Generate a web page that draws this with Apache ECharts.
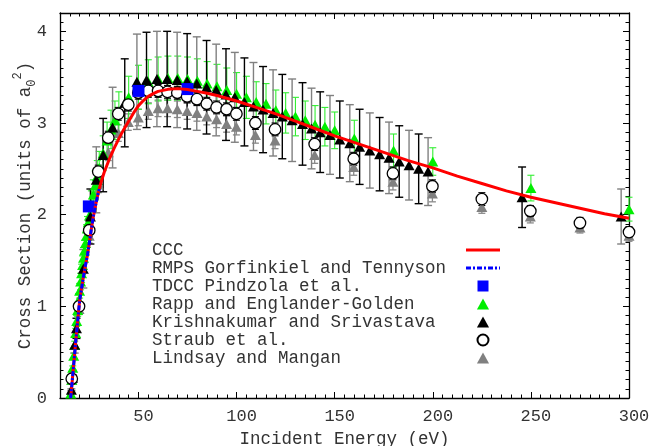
<!DOCTYPE html>
<html><head><meta charset="utf-8">
<script src="https://cdn.jsdelivr.net/npm/echarts@6/dist/echarts.min.js"></script>
<style>html,body{margin:0;padding:0;background:#fff}#c{width:651px;height:446px}</style>
</head><body><div id="c"></div>
<script>
// ---- data (energy eV, cross section a0^2, [error]) ----
const ccc = [[15.4,0],[16,0.13],[17,0.37],[18,0.61],[19,0.84],[20,1.06],[21,1.2],[22,1.33],[23,1.45],[24,1.56],[25,1.70],[26,1.85],[27,1.98],[28,2.09],[29,2.19],[30,2.28],[31,2.36],[32.5,2.46],[35,2.60],[37.5,2.72],[40,2.83],[42.5,2.93],[45,3.02],[47.5,3.11],[50,3.19],[52.5,3.245],[55,3.29],[57.5,3.32],[60,3.345],[65,3.367],[70,3.375],[75,3.365],[80,3.345],[85,3.325],[90,3.30],[95,3.27],[100,3.24],[110,3.17],[120,3.10],[130,3.02],[140,2.94],[150,2.86],[162.5,2.77],[175,2.68],[187.5,2.59],[200,2.51],[212.5,2.42],[225,2.34],[237.5,2.26],[250,2.19],[262.5,2.13],[275,2.07],[287.5,2.01],[300,1.96]];
const rmps = [[15.4,0],[16,0.13],[17,0.37],[18,0.61],[19,0.84],[20,1.06],[21,1.2],[22,1.33],[23,1.45],[24,1.56],[25,1.70],[26,1.85],[27,1.98],[28,2.09],[29,2.19],[30,2.28]];
const tdcc = [[24.7,2.09],[50,3.35],[75,3.37]];
const rapp = [[15.5,0.05,0.00],[16,0.20,0.01],[16.5,0.33,0.02],[17,0.46,0.03],[17.5,0.58,0.04],[18,0.71,0.05],[18.5,0.84,0.06],[19,0.96,0.07],[19.5,1.07,0.07],[20,1.17,0.08],[20.5,1.27,0.09],[21,1.36,0.10],[21.5,1.45,0.10],[22,1.53,0.11],[22.5,1.61,0.11],[23,1.69,0.12],[23.5,1.77,0.12],[24,1.85,0.13],[24.5,1.92,0.13],[25,1.99,0.14],[26,2.11,0.15],[27,2.22,0.16],[28,2.32,0.16],[29,2.42,0.17],[30,2.51,0.18],[32,2.67,0.19],[34,2.81,0.20],[36,2.93,0.21],[38,3.03,0.21],[40,3.12,0.22],[45,3.28,0.23],[50,3.39,0.24],[55,3.45,0.24],[60,3.48,0.24],[65,3.49,0.24],[70,3.49,0.24],[75,3.48,0.24],[80,3.46,0.24],[85,3.43,0.24],[90,3.40,0.24],[95,3.36,0.24],[100,3.32,0.23],[105,3.28,0.23],[110,3.23,0.22],[115,3.21,0.22],[120,3.14,0.22],[125,3.11,0.22],[130,3.07,0.21],[135,3.03,0.21],[140,2.98,0.21],[145,2.96,0.21],[150,2.92,0.20],[160,2.83,0.20],[180,2.70,0.18],[200,2.58,0.15],[250,2.29,0.14],[300,2.06,0.13]];
const krish = [[15.8,0.09,0.01],[16.4,0.22,0.03],[17.5,0.58,0.09],[18.4,0.76,0.11],[21.9,1.41,0.21],[25.5,1.98,0.30],[28.5,2.38,0.36],[32,2.65,0.40],[36.8,2.95,0.44],[43,3.22,0.48],[49.2,3.45,0.52],[54.1,3.47,0.52],[59.4,3.48,0.52],[64.6,3.48,0.52],[69.7,3.47,0.52],[74.8,3.455,0.52],[79.7,3.43,0.51],[84.7,3.39,0.51],[89.6,3.36,0.50],[94.6,3.31,0.50],[99.1,3.28,0.49],[104,3.23,0.48],[108.6,3.18,0.48],[113.5,3.146,0.47],[118.6,3.11,0.47],[123.3,3.07,0.46],[128.3,3.03,0.45],[133.6,2.99,0.45],[138.2,2.94,0.44],[142.6,2.90,0.44],[147.6,2.87,0.43],[152.6,2.82,0.42],[157.7,2.78,0.42],[162.7,2.74,0.41],[167.9,2.70,0.41],[172.9,2.66,0.40],[177.7,2.62,0.39],[182.9,2.58,0.39],[187.9,2.54,0.38],[192.8,2.50,0.38],[197.6,2.47,0.37],[245.5,2.19,0.33],[296,1.98,0.30]];
const straub = [[16,0.21,0.02],[19.7,1.0,0.05],[24.9,1.83,0.07],[29.5,2.47,0.07],[34.6,2.84,0.07],[39.7,3.10,0.07],[44.8,3.20,0.07],[49.9,3.33,0.07],[55,3.35,0.07],[60,3.35,0.07],[64.8,3.34,0.07],[69.8,3.33,0.07],[74.8,3.29,0.07],[79.8,3.26,0.07],[84.8,3.21,0.07],[89.8,3.17,0.07],[94.9,3.15,0.07],[99.9,3.10,0.07],[109.6,3.00,0.07],[119.6,2.93,0.07],[139.8,2.77,0.07],[159.7,2.61,0.07],[179.7,2.45,0.07],[199.8,2.31,0.07],[225,2.17,0.07],[249.7,2.04,0.06],[275,1.91,0.06],[300,1.81,0.06]];
const lindsay = [[16,0.20,0.02],[19.7,0.97,0.06],[24.9,1.77,0.08],[29.5,2.33,0.09],[34.6,2.68,0.09],[39.7,2.89,0.09],[44.8,3.01,0.09],[49.9,3.06,0.09],[55,3.13,0.09],[60,3.16,0.09],[64.8,3.16,0.09],[69.8,3.15,0.09],[74.8,3.13,0.09],[79.8,3.11,0.09],[84.8,3.07,0.09],[89.8,3.04,0.09],[94.9,2.99,0.09],[99.9,2.96,0.09],[109.6,2.87,0.09],[119.6,2.81,0.09],[139.8,2.65,0.09],[159.7,2.52,0.09],[179.7,2.36,0.09],[199.8,2.23,0.09],[225,2.085,0.07],[249.7,1.98,0.07],[275,1.86,0.06],[300,1.77,0.06]];
const xTicks = [50,100,150,200,250,300];
const yTicks = [0,1,2,3,4];
const names = ['CCC','RMPS Gorfinkiel and Tennyson','TDCC Pindzola et al.','Rapp and Englander-Golden','Krishnakumar and Srivastava','Straub et al.','Lindsay and Mangan'];

// ---- chart ----
const FONT = 'Liberation Mono';
const TXT = '#333';
const chart = echarts.init(document.getElementById('c'), null, {renderer:'canvas'});

function errBars(name, data, colorFn, cap, lw){
  return {type:'custom', name:name, data:data, silent:true, encode:{x:0,y:1},
    renderItem:function(params, api){
      const x=api.value(0), y=api.value(1), e=api.value(2);
      const t=api.coord([x,y+e]), b=api.coord([x,y-e]);
      const st={stroke:colorFn(params.dataIndex), lineWidth:lw};
      return {type:'group', children:[
        {type:'line', shape:{x1:t[0],y1:t[1],x2:b[0],y2:b[1]}, style:st},
        {type:'line', shape:{x1:t[0]-cap/2,y1:t[1],x2:t[0]+cap/2,y2:t[1]}, style:st},
        {type:'line', shape:{x1:b[0]-cap/2,y1:b[1],x2:b[0]+cap/2,y2:b[1]}, style:st}
      ]};
    }};
}

const lineSt = {color:'#000', width:1.3};
const xb = {type:'value', min:10, max:300, splitLine:{show:false}};
const yb = {type:'value', min:0, max:4.2, splitLine:{show:false}};
const minorX = (pos)=>Object.assign({}, xb, {position:pos, interval:5, axisLine:{show:false,onZero:false}, axisTick:{inside:true,length:3.5,lineStyle:{color:'#000'}}, axisLabel:{show:false}});
const minorY = (pos)=>Object.assign({}, yb, {position:pos, interval:0.1, axisLine:{show:false,onZero:false}, axisTick:{inside:true,length:3.5,lineStyle:{color:'#000'}}, axisLabel:{show:false}});

const solidIcon = 'path://M0,0H34V3H0Z';
const dashDotIcon = 'path://M0,0H5V3H0Z M7,0H9V3H7Z M11,0H16V3H11Z M18,0H20V3H18Z M22,0H27V3H22Z M29,0H31V3H29Z M33,0H34V3H33Z';
const triIcon = 'path://M5.5,0L11,10H0Z';
const sqIcon = 'path://M0,0H12V12H0Z';

const option = {
  animation:false,
  backgroundColor:'#fff',
  grid:{left:60, right:22, top:13, bottom:48, containLabel:false, outerBoundsMode:'none'},
  legend:{
    orient:'vertical', left:152, top:241, padding:0, itemGap:0, align:'right',
    itemWidth:34, itemHeight:11, selectedMode:false, symbolKeepAspect:true,
    data:[
      {name:names[0], icon:solidIcon},
      {name:names[1], icon:dashDotIcon},
      {name:names[2], icon:sqIcon},
      {name:names[3], icon:triIcon},
      {name:names[4], icon:triIcon},
      {name:names[5], icon:'circle'},
      {name:names[6], icon:triIcon}
    ],
    formatter:'{t|{name}}',
    textStyle:{rich:{t:{width:309, align:'left', fontFamily:FONT, fontSize:17.5, color:TXT, lineHeight:21.5}}}
  },
  xAxis:[
    Object.assign({}, xb, {position:'bottom', axisLine:{show:true,onZero:false,lineStyle:lineSt},
      axisTick:{inside:true,length:6,customValues:xTicks,lineStyle:{color:'#000'}},
      axisLabel:{customValues:xTicks, margin:10, padding:[0,0,0,10], fontFamily:FONT, fontSize:17, color:TXT},
      name:'Incident Energy (eV)', nameLocation:'middle', nameGap:28,
      nameTextStyle:{fontFamily:FONT, fontSize:17.5, color:TXT}}),
    minorX('bottom'),
    Object.assign({}, xb, {position:'top', axisLine:{show:true,onZero:false,lineStyle:lineSt},
      axisTick:{inside:true,length:6,customValues:xTicks,lineStyle:{color:'#000'}}, axisLabel:{show:false}}),
    minorX('top')
  ],
  yAxis:[
    Object.assign({}, yb, {position:'left', axisLine:{show:true,onZero:false,lineStyle:lineSt},
      axisTick:{inside:true,length:6,customValues:yTicks,lineStyle:{color:'#000'}},
      axisLabel:{customValues:yTicks, margin:13, fontFamily:FONT, fontSize:17, color:TXT},
      name:'Cross Section (units of a{sub|0}{sup|2})', nameLocation:'middle', nameRotate:90, nameGap:22,
      nameMoveOverlap:false,
      nameTextStyle:{fontFamily:FONT, fontSize:17.5, color:TXT, lineHeight:26,
        rich:{sub:{fontFamily:FONT,fontSize:12,color:TXT,verticalAlign:'bottom',lineHeight:26},
              sup:{fontFamily:FONT,fontSize:12,color:TXT,verticalAlign:'top',lineHeight:26}}}}),
    minorY('left'),
    Object.assign({}, yb, {position:'right', axisLine:{show:true,onZero:false,lineStyle:lineSt},
      axisTick:{inside:true,length:6,customValues:yTicks,lineStyle:{color:'#000'}}, axisLabel:{show:false}}),
    minorY('right')
  ],
  series:[
    errBars('Lindsay err', lindsay, ()=> '#8a8a8a', 7, 1.3),
    {type:'scatter', name:'Lindsay and Mangan', data:lindsay, symbol:'triangle', symbolSize:[11,10], itemStyle:{color:'#808080', opacity:1}},
    errBars('Rapp err', rapp, ()=> '#33ee33', 7, 1.1),
    {type:'scatter', name:'Rapp and Englander-Golden', data:rapp, symbol:'triangle', symbolSize:[11,10], itemStyle:{color:'#00ee00', opacity:1}},
    errBars('Krish err', krish, (i)=> (i%2===0 ? '#808080' : '#000000'), 8, 1.4),
    {type:'scatter', name:'Krishnakumar and Srivastava', data:krish, symbol:'triangle', symbolSize:[11,10], itemStyle:{color:'#000', opacity:1}},
    errBars('Straub err', straub, ()=> '#000', 7, 1.1),
    {type:'scatter', name:'Straub et al.', data:straub, symbol:'circle', symbolSize:11.5, itemStyle:{color:'#fff', borderColor:'#000', borderWidth:1.3, opacity:1}},
    {type:'line', name:'CCC', data:ccc, symbol:'none', showSymbol:false, smooth:false, lineStyle:{color:'#ff0000', width:3}, itemStyle:{color:'#ff0000'}},
    {type:'line', name:'RMPS Gorfinkiel and Tennyson', data:rmps, symbol:'none', showSymbol:false, smooth:false, lineStyle:{color:'#0000ff', width:3, type:[5,2,2,2]}, itemStyle:{color:'#0000ff'}},
    {type:'scatter', name:'TDCC Pindzola et al.', data:tdcc, symbol:'rect', symbolSize:12, itemStyle:{color:'#0000ff', opacity:1}}
  ]
};
chart.setOption(option);
</script>
</body></html>
